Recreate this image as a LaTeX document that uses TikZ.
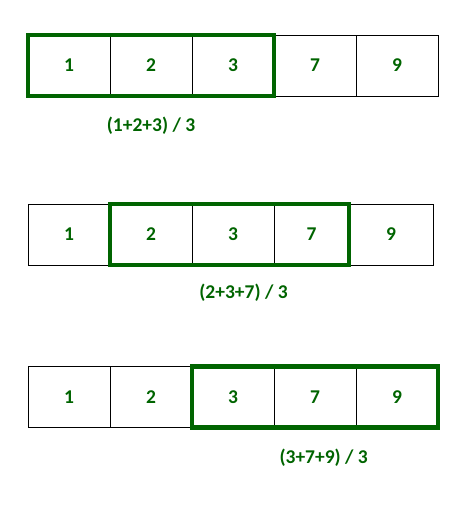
\documentclass[tikz,border=0pt]{standalone}
\usepackage{fontspec}
\setmainfont{Carlito}
\definecolor{wingreen}{RGB}{0,100,0}
\tikzset{
  cell/.style={draw=black, line width=1pt, inner sep=0pt, outer sep=0pt,
    minimum height=61pt, text=wingreen, font=\fontsize{19.5}{23}\selectfont\bfseries},
  win/.style={draw=wingreen, line width=4.3pt},
  sumlabel/.style={text=wingreen, font=\fontsize{19.5}{23}\selectfont\bfseries, inner sep=0pt}
}
\begin{document}
\begin{tikzpicture}[x=1pt,y=-1pt]
\useasboundingbox (0,0) rectangle (465,509);
% row 1
\node[cell, minimum width=82pt] (a1) at (69,65.5) {1};
\node[cell, minimum width=82pt] (a2) at (151,65.5) {2};
\node[cell, minimum width=82pt] (a3) at (233,65.5) {3};
\node[cell, minimum width=82pt] (a4) at (315,65.5) {7};
\node[cell, minimum width=82pt] (a5) at (397,65.5) {9};
\draw[win] (a1.north west) rectangle (a3.south east);
\node[sumlabel] (la) at (151,126) {(1+2+3) / 3};
% row 2
\node[cell, minimum width=82pt] (b1) at (69,234.5) {1};
\node[cell, minimum width=82pt] (b2) at (151,234.5) {2};
\node[cell, minimum width=82pt] (b3) at (233,234.5) {3};
\node[cell, minimum width=75pt] (b4) at (311.5,234.5) {7};
\node[cell, minimum width=84pt] (b5) at (391,234.5) {9};
\draw[win] (b2.north west) rectangle (b4.south east);
\node[sumlabel] (lb) at (243.5,293) {(2+3+7) / 3};
% row 3
\node[cell, minimum width=82pt] (c1) at (69,397) {1};
\node[cell, minimum width=82pt] (c2) at (151,397) {2};
\node[cell, minimum width=82pt] (c3) at (233,397) {3};
\node[cell, minimum width=82pt] (c4) at (315,397) {7};
\node[cell, minimum width=82pt] (c5) at (397,397) {9};
\draw[win] (c3.north west) rectangle (c5.south east);
\node[sumlabel] (lc) at (323.7,458) {(3+7+9) / 3};
\end{tikzpicture}
\end{document}
